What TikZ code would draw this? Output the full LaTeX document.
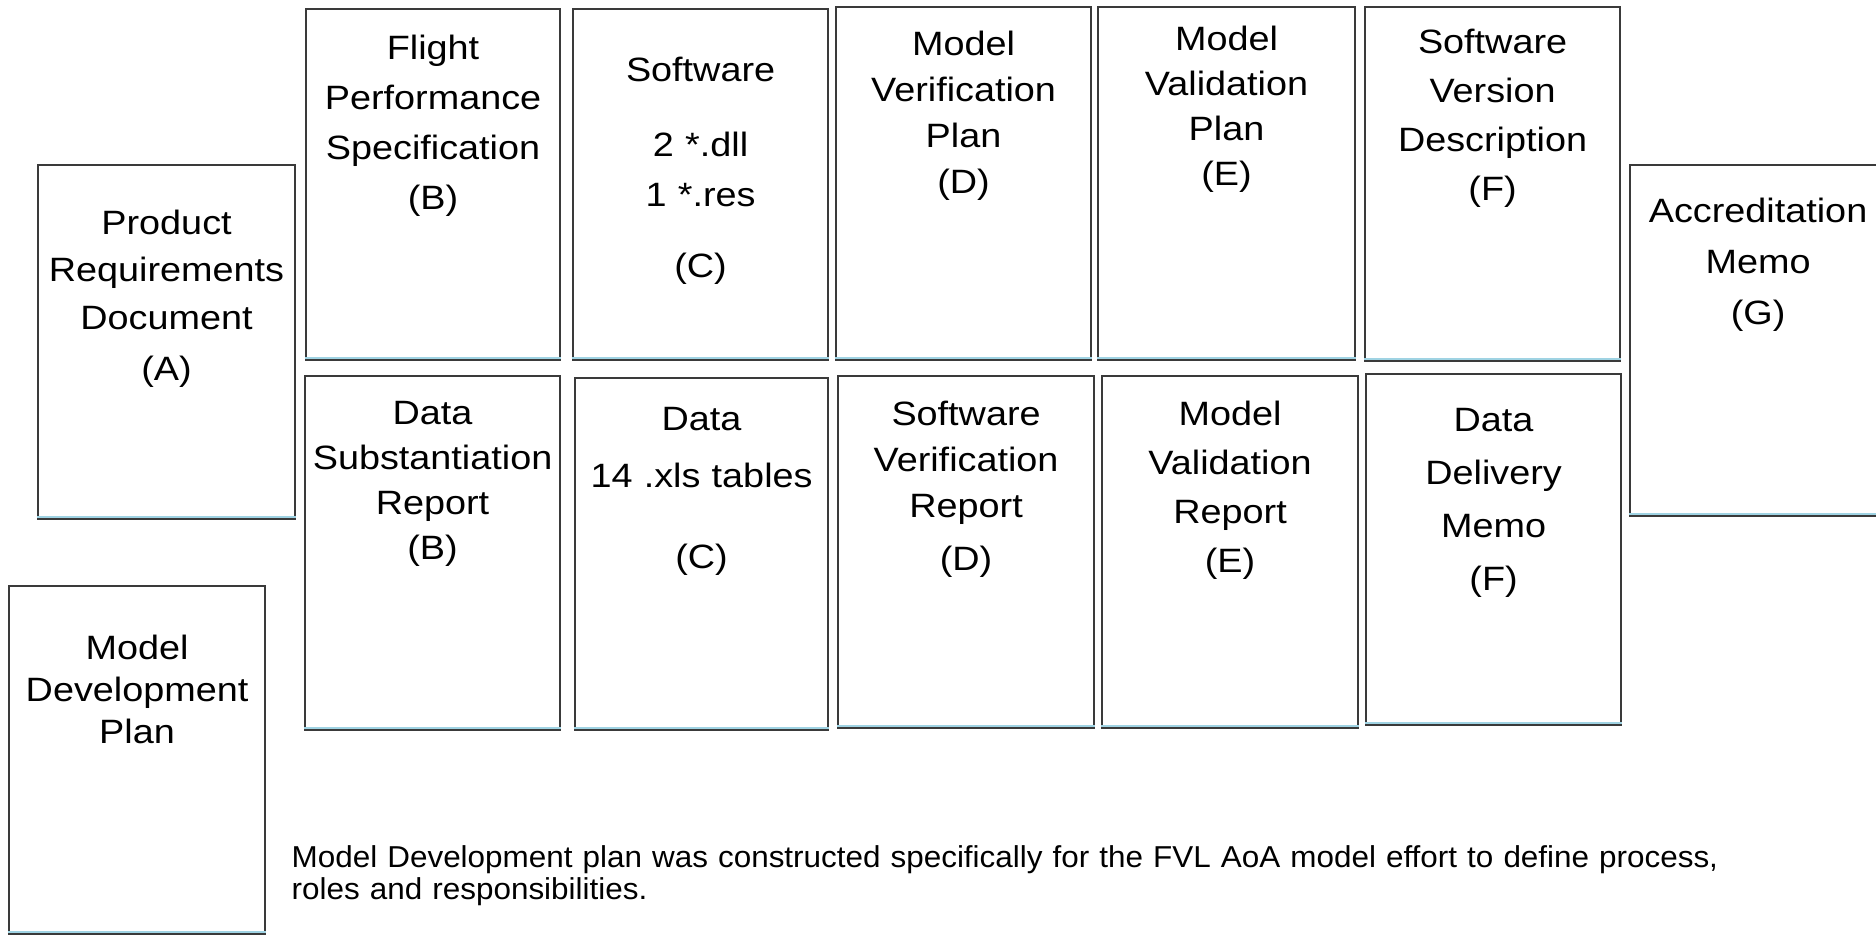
\documentclass[tikz,border=0pt]{standalone}
\usepackage{fontspec}
\setsansfont{Liberation Sans}
\newfontfamily\boxface{Liberation Sans}[FakeStretch=1.12]
\newfontfamily\noteface{Liberation Sans}[FakeStretch=1.04]
\usepackage{xcolor}
\usepackage{tikz}
\usetikzlibrary{positioning,calc}

\definecolor{boxline}{HTML}{3A3A3A}
\definecolor{boxshade}{HTML}{9FD3E3}
\newcommand\boxfont[1]{\boxface\fontsize{9.6pt}{#1}\selectfont}

\begin{document}
\begin{tikzpicture}[
 x=1cm,y=1cm,
 box/.style={draw=boxline,line width=0.6pt,fill=white,anchor=north west,
             align=center,inner sep=0pt,
             append after command={([yshift=0.9pt]\tikzlastnode.south west)
               edge[draw=boxshade,line width=0.6pt] ([yshift=0.9pt]\tikzlastnode.south east)}},
 note/.style={anchor=base west,align=left,inner sep=0pt,text width=15cm,
              font=\noteface\fontsize{8.6pt}{0.33cm}\selectfont}]
\useasboundingbox (0,0) rectangle (18.76,-9.36);
% left column
\node[box,text width=2.57cm,text height=0.69cm,text depth=2.85cm,font=\boxfont{0.475cm}]
 (prd) at (0.37,-1.64) {Product\\Requirements\\Document\\[0.04cm](A)};
\node[box,text width=2.56cm,text height=0.73cm,text depth=2.75cm,font=\boxfont{0.42cm}]
 (mdp) at (0.08,-5.85) {Model\\Development\\Plan};
% upper row
\node[box,text width=2.54cm,text height=0.50cm,text depth=3.01cm,font=\boxfont{0.50cm}]
 (fps) at (3.05,-0.08) {Flight\\Performance\\Specification\\(B)};
\node[box,text width=2.55cm,text height=0.72cm,text depth=2.79cm,font=\boxfont{0.50cm}]
 (sw) at (5.72,-0.08) {Software\\[0.25cm]2 *.dll\\1 *.res\\[0.21cm](C)};
\node[box,text width=2.55cm,text height=0.48cm,text depth=3.05cm,font=\boxfont{0.46cm}]
 (mvp) at (8.35,-0.06) {Model\\Verification\\Plan\\(D)};
\node[box,text width=2.57cm,text height=0.43cm,text depth=3.10cm,font=\boxfont{0.45cm}]
 (mvalp) at (10.97,-0.06) {Model\\Validation\\Plan\\(E)};
\node[box,text width=2.55cm,text height=0.46cm,text depth=3.08cm,font=\boxfont{0.49cm}]
 (svd) at (13.64,-0.06) {Software\\Version\\Description\\(F)};
% lower row
\node[box,text width=2.55cm,text height=0.48cm,text depth=3.06cm,font=\boxfont{0.45cm}]
 (dsr) at (3.04,-3.75) {Data\\Substantiation\\Report\\(B)};
\node[box,text width=2.53cm,text height=0.52cm,text depth=3.00cm,font=\boxfont{0.57cm}]
 (data) at (5.74,-3.77) {Data\\14 .xls tables\\[0.24cm](C)};
\node[box,text width=2.56cm,text height=0.49cm,text depth=3.03cm,font=\boxfont{0.46cm}]
 (svr) at (8.37,-3.75) {Software\\Verification\\Report\\[0.07cm](D)};
\node[box,text width=2.56cm,text height=0.49cm,text depth=3.03cm,font=\boxfont{0.49cm}]
 (mvalr) at (11.01,-3.75) {Model\\Validation\\Report\\(E)};
\node[box,text width=2.55cm,text height=0.57cm,text depth=2.94cm,font=\boxfont{0.53cm}]
 (ddm) at (13.65,-3.73) {Data\\Delivery\\Memo\\(F)};
% right column
\node[box,text width=2.56cm,text height=0.57cm,text depth=2.94cm,font=\boxfont{0.51cm}]
 (accr) at (16.29,-1.64) {Accreditation\\Memo\\(G)};
\node[note] (remark) at (2.91,-8.67)
 {Model Development plan was constructed specifically for the FVL AoA model effort to define process,\\
 roles and responsibilities.};
\end{tikzpicture}
\end{document}
